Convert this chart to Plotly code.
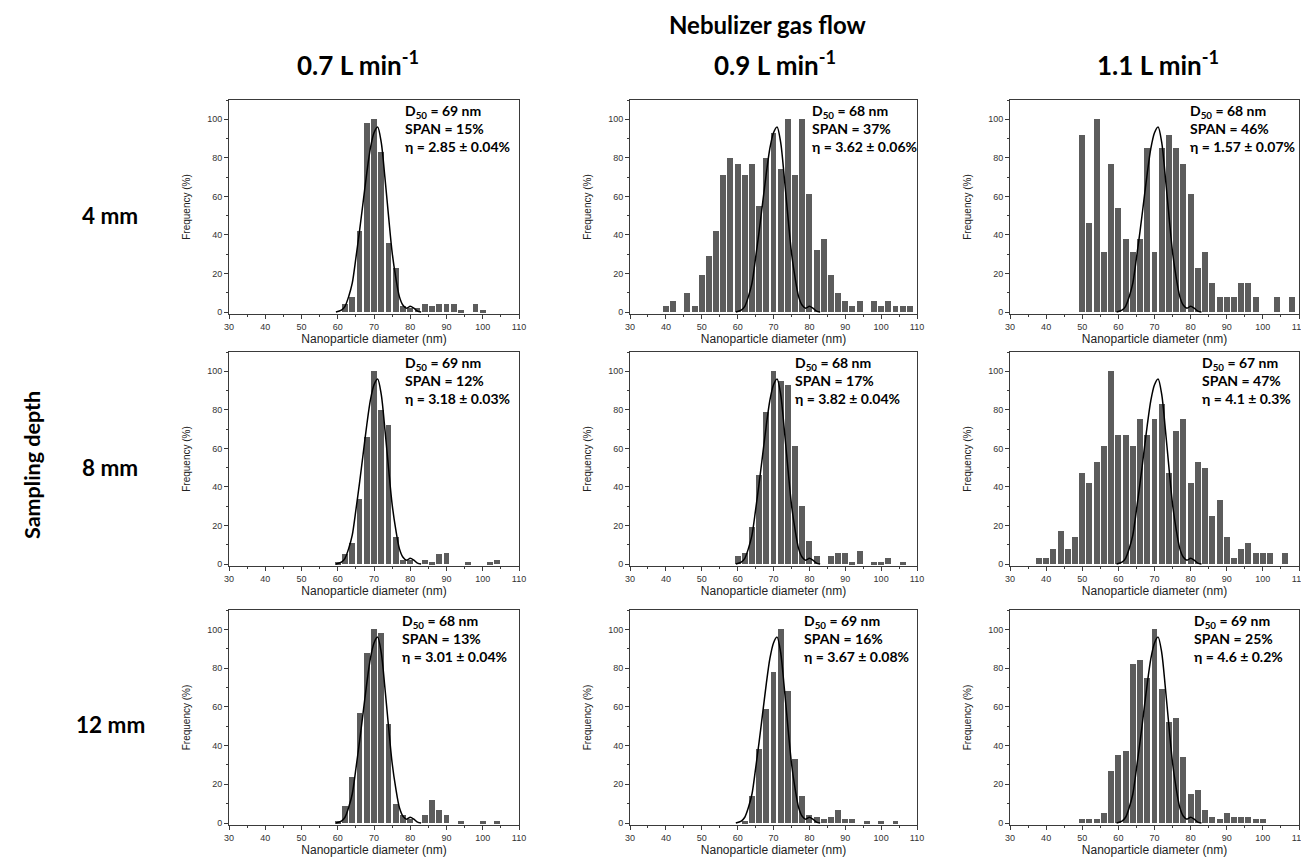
import plotly.graph_objects as go
from plotly.subplots import make_subplots

# ---------------- data ----------------
bins = [38, 40, 42, 44, 46, 48, 50, 52, 54, 56, 58, 60, 62, 64, 66, 68, 70, 72,
        74, 76, 78, 80, 82, 84, 86, 88, 90, 92, 94, 96, 98, 100, 102, 104, 106, 108]

freq_4mm_07 = [0, 0, 0, 0, 0, 0, 0, 0, 0, 0, 0, 0, 4, 8, 42, 98, 100, 83,
               36, 23, 3, 2, 2, 4, 3, 4, 4, 4, 1, 0, 4, 1, 0, 0, 0, 0]
freq_4mm_09 = [0, 3, 6, 0, 10, 3, 19, 29, 42, 71, 80, 77, 71, 77, 55, 80, 93, 74,
               100, 71, 100, 61, 32, 38, 19, 10, 6, 3, 6, 0, 6, 3, 6, 3, 3, 3]
freq_4mm_11 = [0, 0, 0, 0, 0, 0, 92, 46, 100, 31, 77, 54, 38, 31, 38, 85, 31, 85,
               92, 85, 77, 61, 23, 31, 15, 8, 8, 8, 15, 15, 8, 0, 0, 8, 0, 8]
freq_8mm_07 = [0, 0, 0, 0, 0, 0, 0, 0, 0, 0, 0, 1, 5, 11, 34, 66, 100, 80,
               72, 14, 2, 2, 0, 2, 1, 5, 6, 0, 0, 1, 0, 0, 1, 2, 0, 0]
freq_8mm_09 = [0, 0, 0, 0, 0, 0, 0, 0, 0, 0, 0, 4, 6, 19, 46, 79, 100, 95,
               93, 61, 30, 12, 4, 0, 4, 6, 6, 1, 7, 0, 1, 1, 3, 0, 1, 0]
freq_8mm_11 = [3, 3, 8, 17, 8, 14, 47, 42, 53, 61, 100, 67, 67, 61, 75, 67, 75, 83,
               47, 69, 75, 42, 53, 50, 25, 33, 14, 3, 8, 11, 6, 6, 6, 0, 6, 0]
freq_12mm_07 = [0, 0, 0, 0, 0, 0, 0, 0, 0, 0, 0, 1, 9, 24, 57, 88, 100, 98,
                51, 10, 4, 2, 0, 4, 12, 7, 4, 0, 1, 0, 0, 1, 0, 1, 0, 0]
freq_12mm_09 = [0, 0, 0, 0, 0, 0, 0, 0, 0, 0, 0, 0, 1, 14, 38, 59, 78, 100,
                68, 33, 14, 4, 3, 2, 3, 7, 2, 2, 0, 1, 0, 1, 0, 1, 0, 0]
freq_12mm_11 = [0, 0, 0, 0, 0, 0, 2, 2, 2, 5, 27, 35, 37, 82, 84, 75, 100, 69,
                52, 54, 34, 15, 17, 7, 3, 2, 5, 3, 3, 3, 2, 2, 0, 0, 0, 0]

# fitted curve (same in every panel)
fit_x = [59.5, 61, 62, 63, 64, 65, 66, 67, 68, 69, 70, 71, 72, 73, 74, 75,
         76, 77, 78, 79, 80, 81, 82, 83]
fit_y = [0, 1, 3, 8, 15, 28, 42, 57, 72, 85, 93, 96, 88, 70, 50, 31,
         18, 8, 3.5, 2, 3, 2, 0.5, 0]

flow_labels = ["0.7 L min<sup>-1</sup>", "0.9 L min<sup>-1</sup>", "1.1 L min<sup>-1</sup>"]
depth_labels = ["4 mm", "8 mm", "12 mm"]

d50 = [[69, 68, 68], [69, 68, 67], [68, 69, 69]]
span = [[15, 37, 46], [12, 17, 47], [13, 16, 25]]
eta = [["2.85 ± 0.04", "3.62 ± 0.06", "1.57 ± 0.07"],
       ["3.18 ± 0.03", "3.82 ± 0.04", "4.1 ± 0.3"],
       ["3.01 ± 0.04", "3.67 ± 0.08", "4.6 ± 0.2"]]

panels = [[freq_4mm_07, freq_4mm_09, freq_4mm_11],
          [freq_8mm_07, freq_8mm_09, freq_8mm_11],
          [freq_12mm_07, freq_12mm_09, freq_12mm_11]]

# ---------------- layout geometry ----------------
W, H = 1309, 860
OFF = 8  # page body margin


def px(xp):
    return (xp - OFF) / W


def py(yp):
    return 1 - (yp - OFF) / H


col_px = [(229, 519), (630, 917), (1010, 1299)]
row_px = [(100, 314), (352, 566), (610, 825)]
text_x = [[77.9, 80.2, 79.3], [77.9, 75.4, 82.6], [77.3, 77.9, 80.4]]

fig = make_subplots(rows=3, cols=3)

bar_color = "#5c5c5c"
frame = "#3a3a3a"
tick_font = dict(family="Liberation Sans, Arial", size=9, color="#333")

for r in range(3):
    for c in range(3):
        fig.add_trace(go.Bar(x=bins, y=panels[r][c], width=1.65,
                             marker=dict(color=bar_color, line=dict(width=0)),
                             showlegend=False), row=r + 1, col=c + 1)
        fig.add_trace(go.Scatter(x=fit_x, y=fit_y, mode="lines",
                                 line=dict(color="black", width=1.5, shape="spline", smoothing=0.8),
                                 showlegend=False), row=r + 1, col=c + 1)
        x0, x1 = col_px[c]
        y0, y1 = row_px[r]
        fig.update_xaxes(domain=[px(x0), px(x1)], range=[30, 110], automargin=False,
                         tickvals=[30, 40, 50, 60, 70, 80, 90, 100, 110],
                         ticks="outside", ticklen=4, tickcolor=frame,
                         minor=dict(ticks="outside", ticklen=2, dtick=5, tickcolor=frame),
                         showline=True, linecolor=frame, linewidth=1, mirror=True,
                         showgrid=False, zeroline=False, tickfont=tick_font,
                         title=dict(text="Nanoparticle diameter (nm)", standoff=3,
                                    font=dict(family="Liberation Sans, Arial", size=12, color="#222")),
                         row=r + 1, col=c + 1)
        fig.update_yaxes(domain=[py(y1), py(y0)], range=[-1, 110], automargin=False,
                         tickvals=[0, 20, 40, 60, 80, 100],
                         ticks="outside", ticklen=4, tickcolor=frame,
                         minor=dict(ticks="outside", ticklen=2, dtick=10, tickcolor=frame),
                         showline=True, linecolor=frame, linewidth=1, mirror=True,
                         showgrid=False, zeroline=False, tickfont=tick_font,
                         title=dict(text="Frequency (%)", standoff=14,
                                    font=dict(family="Liberation Sans, Arial", size=10, color="#222")),
                         row=r + 1, col=c + 1)

annotations = []
k = 0
for r in range(3):
    for c in range(3):
        k += 1
        suffix = "" if k == 1 else str(k)
        txt = (f"<b>D<sub>50</sub> = {d50[r][c]} nm<br>SPAN = {span[r][c]}%"
               f"<br>η = {eta[r][c]}%</b>")
        annotations.append(dict(x=text_x[r][c], y=110, xref="x" + suffix, yref="y" + suffix,
                                text=txt, showarrow=False, xanchor="left", yanchor="top",
                                align="left",
                                font=dict(family="Lato", size=14, color="black")))

bold = dict(family="Lato", color="black")
annotations.append(dict(x=px(768), y=py(25), xref="paper", yref="paper",
                        xanchor="center", yanchor="middle",
                        text="<b>Nebulizer gas flow</b>", showarrow=False,
                        font=dict(size=24, **bold)))
for c, lab in enumerate(flow_labels):
    cx = [358, 775, 1158][c]
    annotations.append(dict(x=px(cx), y=py(63), xref="paper", yref="paper",
                            xanchor="center", yanchor="middle",
                            text=f"<b>{lab}</b>", showarrow=False,
                            font=dict(size=26, **bold)))
for r, lab in enumerate(depth_labels):
    cy = [215, 467, 724][r]
    annotations.append(dict(x=px(110), y=py(cy), xref="paper", yref="paper",
                            xanchor="center", yanchor="middle",
                            text=f"<b>{lab}</b>", showarrow=False,
                            font=dict(size=22.5, **bold)))
annotations.append(dict(x=px(32), y=py(465), xref="paper", yref="paper",
                        xanchor="center", yanchor="middle",
                        text="<b>Sampling depth</b>", showarrow=False, textangle=-90,
                        font=dict(size=21.5, **bold)))

fig.update_layout(width=W, height=H, margin=dict(l=0, r=0, t=0, b=0, autoexpand=False),
                  paper_bgcolor="white", plot_bgcolor="white",
                  bargap=0, annotations=annotations)

fig.write_html("out.html")
